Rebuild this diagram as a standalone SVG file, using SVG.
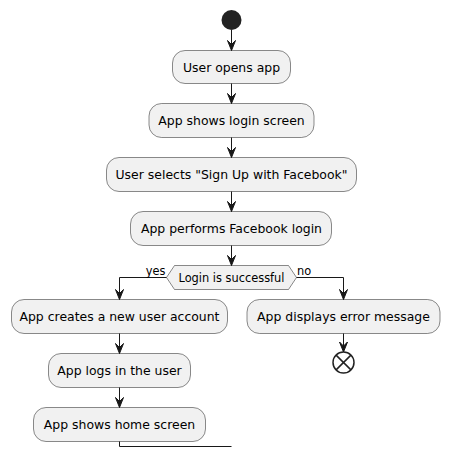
<svg xmlns="http://www.w3.org/2000/svg" width="450" height="458" viewBox="0 0 450 458">
<defs>
<style>
.n{fill:#F1F1F1;stroke:#181818;stroke-width:0.5}
.t{font-family:"DejaVu Sans","Liberation Sans",sans-serif;font-size:12.45px;fill:#000000;text-anchor:middle}
.s{font-family:"DejaVu Sans","Liberation Sans",sans-serif;font-size:11.4px;fill:#000000}
.c{fill:none;stroke:#181818;stroke-width:1}
.a{fill:#181818;stroke:#181818;stroke-width:1}
</style>
</defs>
<rect width="450" height="458" fill="#FFFFFF"/>
<g id="start"><circle cx="231.5" cy="20" r="10" fill="#222222"/></g>
<g id="n1"><rect class="n" x="172.5" y="50.5" width="118" height="33" rx="12.5"/><text class="t" x="231.5" y="71.5">User opens app</text></g>
<g id="n2"><rect class="n" x="149" y="103.5" width="165" height="34" rx="12.5"/><text class="t" x="231.5" y="125">App shows login screen</text></g>
<g id="n3"><rect class="n" x="106.5" y="157.5" width="250" height="34" rx="12.5"/><text class="t" x="231.5" y="179">User selects "Sign Up with Facebook"</text></g>
<g id="n4"><rect class="n" x="130.5" y="211.5" width="201" height="34" rx="12.5"/><text class="t" x="231.5" y="233">App performs Facebook login</text></g>
<g id="d1"><polygon class="n" points="166.5,277.5 174.5,265.5 288.5,265.5 296.5,277.5 288.5,289.5 174.5,289.5"/><text class="s" x="231.5" y="281.5" text-anchor="middle">Login is successful</text></g>
<g id="n5"><rect class="n" x="11.5" y="299.5" width="216" height="34" rx="12.5"/><text class="t" x="119.5" y="321">App creates a new user account</text></g>
<g id="n6"><rect class="n" x="247" y="299.5" width="193" height="34" rx="12.5"/><text class="t" x="343.5" y="321">App displays error message</text></g>
<g id="n7"><rect class="n" x="48.5" y="353.5" width="142" height="34" rx="12.5"/><text class="t" x="119.5" y="375">App logs in the user</text></g>
<g id="n8"><rect class="n" x="33.5" y="407.5" width="172" height="34" rx="12.5"/><text class="t" x="119.5" y="429">App shows home screen</text></g>
<g id="stop"><circle cx="343.5" cy="362.5" r="10.5" fill="none" stroke="#222222" stroke-width="1.5"/><line x1="336.1" y1="355.1" x2="350.9" y2="369.9" stroke="#222222" stroke-width="1.5"/><line x1="350.9" y1="355.1" x2="336.1" y2="369.9" stroke="#222222" stroke-width="1.5"/></g>
<g id="connectors">
<line class="c" x1="231.5" y1="30" x2="231.5" y2="50.5"/><polygon class="a" points="227.5,40.5 231.5,50.5 235.5,40.5 231.5,44.5"/>
<line class="c" x1="231.5" y1="83.5" x2="231.5" y2="103.5"/><polygon class="a" points="227.5,93.5 231.5,103.5 235.5,93.5 231.5,97.5"/>
<line class="c" x1="231.5" y1="137.5" x2="231.5" y2="157.5"/><polygon class="a" points="227.5,147.5 231.5,157.5 235.5,147.5 231.5,151.5"/>
<line class="c" x1="231.5" y1="191.5" x2="231.5" y2="211.5"/><polygon class="a" points="227.5,201.5 231.5,211.5 235.5,201.5 231.5,205.5"/>
<line class="c" x1="231.5" y1="245.5" x2="231.5" y2="265.5"/><polygon class="a" points="227.5,255.5 231.5,265.5 235.5,255.5 231.5,259.5"/>
<polyline class="c" points="166.5,277.5 119.5,277.5 119.5,299.5"/><polygon class="a" points="115.5,289.5 119.5,299.5 123.5,289.5 119.5,293.5"/>
<text class="s" x="165.5" y="275" text-anchor="end">yes</text>
<polyline class="c" points="296.5,277.5 343.5,277.5 343.5,299.5"/><polygon class="a" points="339.5,289.5 343.5,299.5 347.5,289.5 343.5,293.5"/>
<text class="s" x="297" y="275">no</text>
<line class="c" x1="343.5" y1="333.5" x2="343.5" y2="352"/><polygon class="a" points="339.5,342 343.5,352 347.5,342 343.5,346"/>
<line class="c" x1="119.5" y1="333.5" x2="119.5" y2="353.5"/><polygon class="a" points="115.5,343.5 119.5,353.5 123.5,343.5 119.5,347.5"/>
<line class="c" x1="119.5" y1="387.5" x2="119.5" y2="407.5"/><polygon class="a" points="115.5,397.5 119.5,407.5 123.5,397.5 119.5,401.5"/>
<polyline class="c" points="119.5,441.5 119.5,446.5 231.5,446.5"/>
</g>
</svg>
